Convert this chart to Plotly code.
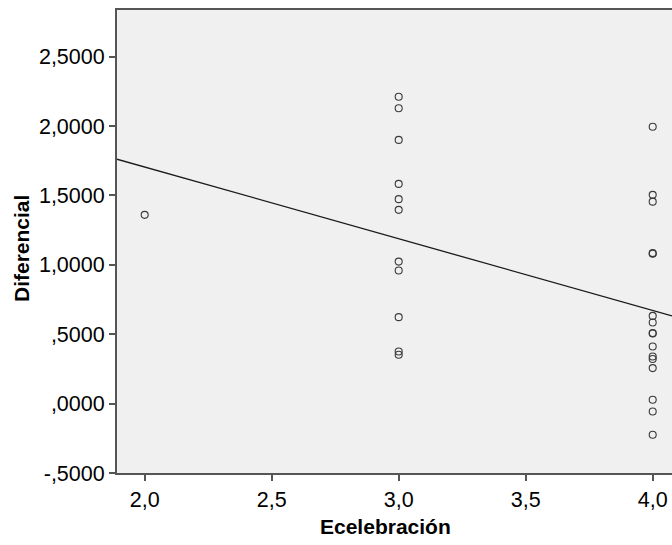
import plotly.graph_objects as go

# Data
x_ecelebracion = [2.0,
                  3.0, 3.0, 3.0, 3.0, 3.0, 3.0, 3.0, 3.0, 3.0, 3.0, 3.0,
                  4.0, 4.0, 4.0, 4.0, 4.0, 4.0, 4.0, 4.0, 4.0, 4.0, 4.0, 4.0, 4.0, 4.0, 4.0, 4.0]
y_diferencial = [1.360,
                 2.211, 2.128, 1.900, 1.583, 1.473, 1.396, 1.023, 0.959, 0.623, 0.375, 0.352,
                 1.995, 1.504, 1.455, 1.084, 1.080, 0.632, 0.584, 0.508, 0.505, 0.411, 0.339, 0.321, 0.256, 0.028, -0.057, -0.224]

fit_x = [1.891, 4.076]
fit_y = [1.761, 0.632]

x_tickvals = [2.0, 2.5, 3.0, 3.5, 4.0]
x_ticktext = ["2,0", "2,5", "3,0", "3,5", "4,0"]
y_tickvals = [-0.5, 0.0, 0.5, 1.0, 1.5, 2.0, 2.5]
y_ticktext = ["-,5000", ",0000", ",5000", "1,0000", "1,5000", "2,0000", "2,5000"]

x_range = [1.891, 4.076]
y_range = [-0.5, 2.836]

x_title = "Ecelebración"
y_title = "Diferencial"

FONT = "Liberation Sans, Arial, sans-serif"
AXIS_COLOR = "#555555"

fig = go.Figure()
fig.add_trace(go.Scatter(
    x=x_ecelebracion, y=y_diferencial, mode="markers",
    marker=dict(symbol="circle-open", size=7, color="#3a3a3a", line=dict(width=1.1, color="#3a3a3a")),
    showlegend=False, hoverinfo="skip", cliponaxis=False,
))
fig.add_trace(go.Scatter(
    x=fit_x, y=fit_y, mode="lines",
    line=dict(color="#1a1a1a", width=1.3),
    showlegend=False, hoverinfo="skip",
))

fig.update_layout(
    width=672, height=545,
    margin=dict(l=117, r=0, t=10, b=72),
    paper_bgcolor="white",
    plot_bgcolor="#F0F0F0",
    font=dict(family=FONT, size=21, color="#000000"),
    xaxis=dict(
        range=x_range, tickvals=x_tickvals, ticktext=x_ticktext,
        showgrid=False, zeroline=False,
        showline=True, linecolor=AXIS_COLOR, linewidth=2, mirror=True,
        ticks="outside", ticklen=6, tickwidth=1.5, tickcolor=AXIS_COLOR,
        tickfont=dict(family=FONT, size=21.5),
    ),
    yaxis=dict(
        range=y_range, tickvals=y_tickvals, ticktext=y_ticktext,
        showgrid=False, zeroline=False,
        showline=True, linecolor=AXIS_COLOR, linewidth=2, mirror=False,
        ticks="outside", ticklen=6, tickwidth=1.5, tickcolor=AXIS_COLOR,
        tickfont=dict(family=FONT, size=21.5),
    ),
    annotations=[
        dict(text="<b>" + x_title + "</b>", xref="paper", yref="paper",
             x=0.483, y=-0.1166, xanchor="center", yanchor="middle",
             showarrow=False, font=dict(family=FONT, size=21)),
        dict(text="<b>" + y_title + "</b>", xref="paper", yref="paper",
             x=-0.171, y=0.484, xanchor="center", yanchor="middle", textangle=-90,
             showarrow=False, font=dict(family=FONT, size=21)),
    ],
)

fig.write_html("out.html")
